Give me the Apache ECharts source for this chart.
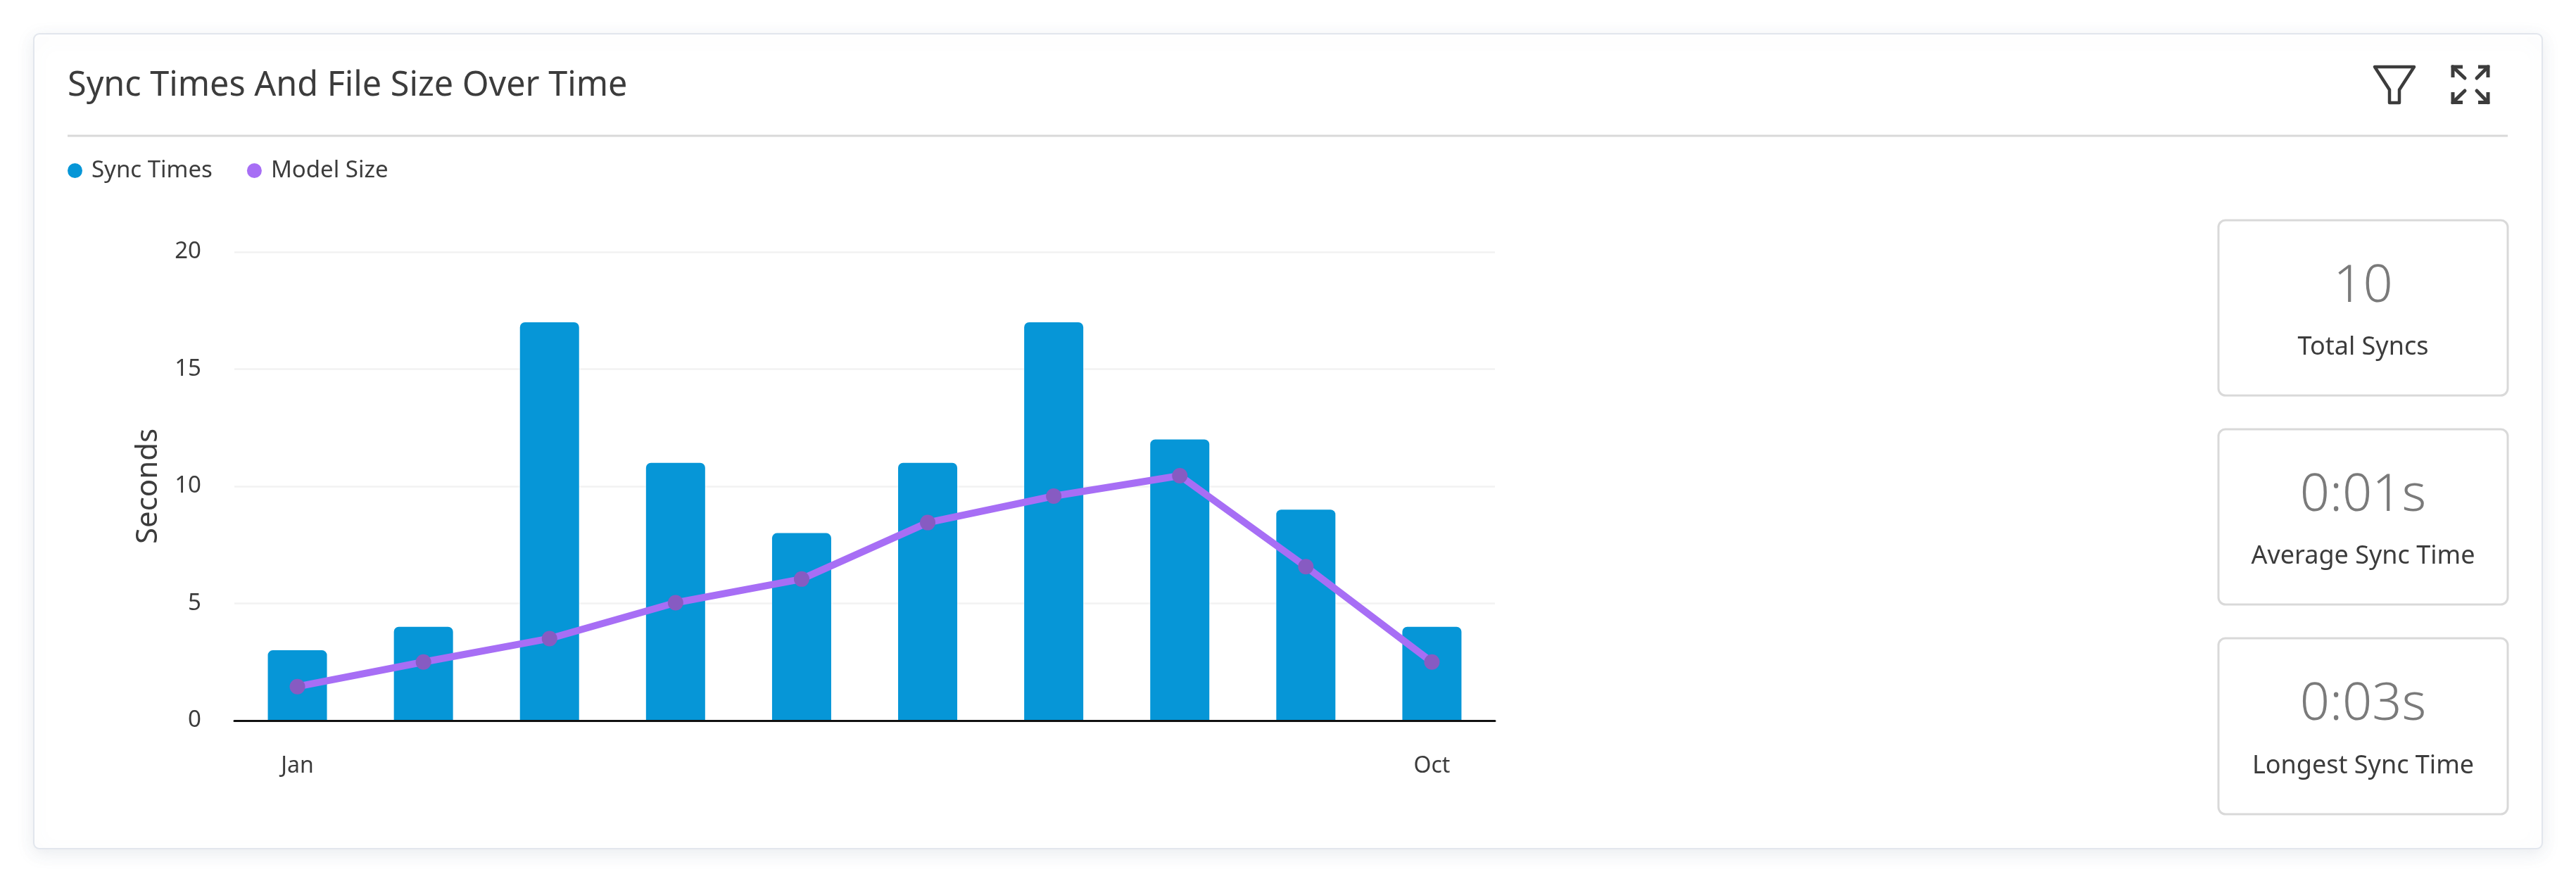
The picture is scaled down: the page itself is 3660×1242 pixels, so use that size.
<!DOCTYPE html>
<html><head><meta charset="utf-8"><title>Sync Times And File Size Over Time</title>
<script src="https://cdn.jsdelivr.net/npm/echarts@6/dist/echarts.min.js"></script>
<style>html,body{margin:0;padding:0;background:#fff}#c{width:3660px;height:1242px}</style>
</head><body><div id="c"></div>
<script>
const categories = ['Jan','Feb','Mar','Apr','May','Jun','Jul','Aug','Sep','Oct'];
const syncTimes = [3,4,17,11,8,11,17,12,9,4];
const modelSize = [1.45,2.5,3.5,5.03,6.04,8.45,9.58,10.45,6.57,2.5];
const statValues = ['10','0:01s','0:03s'];
const statLabels = ['Total Syncs','Average Sync Time','Longest Sync Time'];
const titleText = 'Sync Times And File Size Over Time';
const FONT = '"Noto Sans", sans-serif';
const DARK = '#3c3c3c';
const BLUE = '#0696d7', PURPLE = '#a76ef5', MARK = '#875bc2';

const statBoxes = [[313,562],[610,859],[907,1157]];
const valueMid = [408,705,1002];
const labelMid = [494,791,1089];
const graphics = [
  {type:'rect',z:-10,shape:{x:48,y:48,width:3564,height:1158,r:8},
   style:{fill:'#fff',stroke:'#e2e6ed',lineWidth:2,shadowBlur:24,shadowOffsetY:6,shadowColor:'rgba(120,135,160,0.16)'}},
  {type:'line',z:-5,shape:{x1:96,y1:193,x2:3563,y2:193},style:{stroke:'#d9d9d9',lineWidth:3}},
  // filter icon
  {type:'polygon',shape:{points:[[3374,95],[3430,95],[3409,127.5],[3409,146],[3395,146],[3395,127.5]]},
   style:{fill:'none',stroke:DARK,lineWidth:4.5,lineJoin:'round'}},
];
// expand icon
[[[3499,95],[3485,95],[3485,110]],[[3521,95],[3535,95],[3535,110]],
 [[3485,131],[3485,145.5],[3499,145.5]],[[3535,131],[3535,145.5],[3521,145.5]]].forEach(p=>{
  graphics.push({type:'polyline',shape:{points:p},style:{fill:'none',stroke:DARK,lineWidth:5,lineJoin:'miter'}});
});
[[[3485,95],[3502,111]],[[3535,95],[3519,111]],[[3485,145.5],[3502,129]],[[3535,145.5],[3519,129]]].forEach(p=>{
  graphics.push({type:'polyline',shape:{points:p},style:{fill:'none',stroke:DARK,lineWidth:5,lineCap:'round'}});
});
statValues.forEach((v,i)=>{
  const [t,b]=statBoxes[i];
  graphics.push({type:'rect',shape:{x:3152,y:t,width:411,height:b-t,r:10},style:{fill:'#fff',stroke:'#d9d9d9',lineWidth:3}});
  graphics.push({type:'text',x:3357.5,y:valueMid[i],style:{text:v,fill:'#7a7a7a',font:'300 74px '+FONT,textAlign:'center',textVerticalAlign:'middle'}});
  graphics.push({type:'text',x:3357.5,y:labelMid[i],style:{text:statLabels[i],fill:DARK,font:'400 36px '+FONT,textAlign:'center',textVerticalAlign:'middle'}});
});

const chart = echarts.init(document.getElementById('c'),null,{renderer:'canvas'});
chart.setOption({
  animation:false,
  backgroundColor:'#fff',
  textStyle:{fontFamily:FONT},
  title:{text:titleText,left:96,top:98,padding:0,textStyle:{fontFamily:FONT,fontSize:48.5,fontWeight:400,color:DARK}},
  legend:{left:96,top:226,padding:0,itemWidth:21,itemHeight:21,itemGap:49,
    textStyle:{fontFamily:FONT,fontSize:33,color:DARK,padding:[0,0,0,8]},
    data:[{name:'Sync Times',icon:'circle',itemStyle:{color:BLUE}},{name:'Model Size',icon:'circle',itemStyle:{color:PURPLE}}]},
  grid:{left:333,right:1536,top:358,bottom:218,containLabel:false},
  xAxis:{type:'category',data:categories,z:5,
    axisTick:{show:false},
    axisLine:{lineStyle:{color:'#111',width:3}},
    axisLabel:{interval:(i)=>i===0||i===categories.length-1,margin:49,fontFamily:FONT,fontSize:32,color:DARK}},
  yAxis:{type:'value',min:0,max:20,interval:5,name:'Seconds',nameLocation:'middle',nameRotate:90,nameGap:101,
    nameTextStyle:{fontFamily:FONT,fontSize:42,color:DARK},
    axisLine:{show:false},axisTick:{show:false},
    axisLabel:{margin:47,fontFamily:FONT,fontSize:33,color:DARK},
    splitLine:{lineStyle:{color:'#f2f2f2',width:2.5}}},
  series:[
    {name:'Sync Times',type:'bar',data:syncTimes,barWidth:84,z:2,
     itemStyle:{color:BLUE,borderRadius:[7,7,0,0],shadowBlur:5,shadowColor:'#fff'}},
    {name:'Model Size',type:'line',data:modelSize,z:6,symbol:'circle',symbolSize:22,smooth:false,
     lineStyle:{color:PURPLE,width:10},itemStyle:{color:MARK}}
  ],
  graphic:graphics
});
</script></body></html>
